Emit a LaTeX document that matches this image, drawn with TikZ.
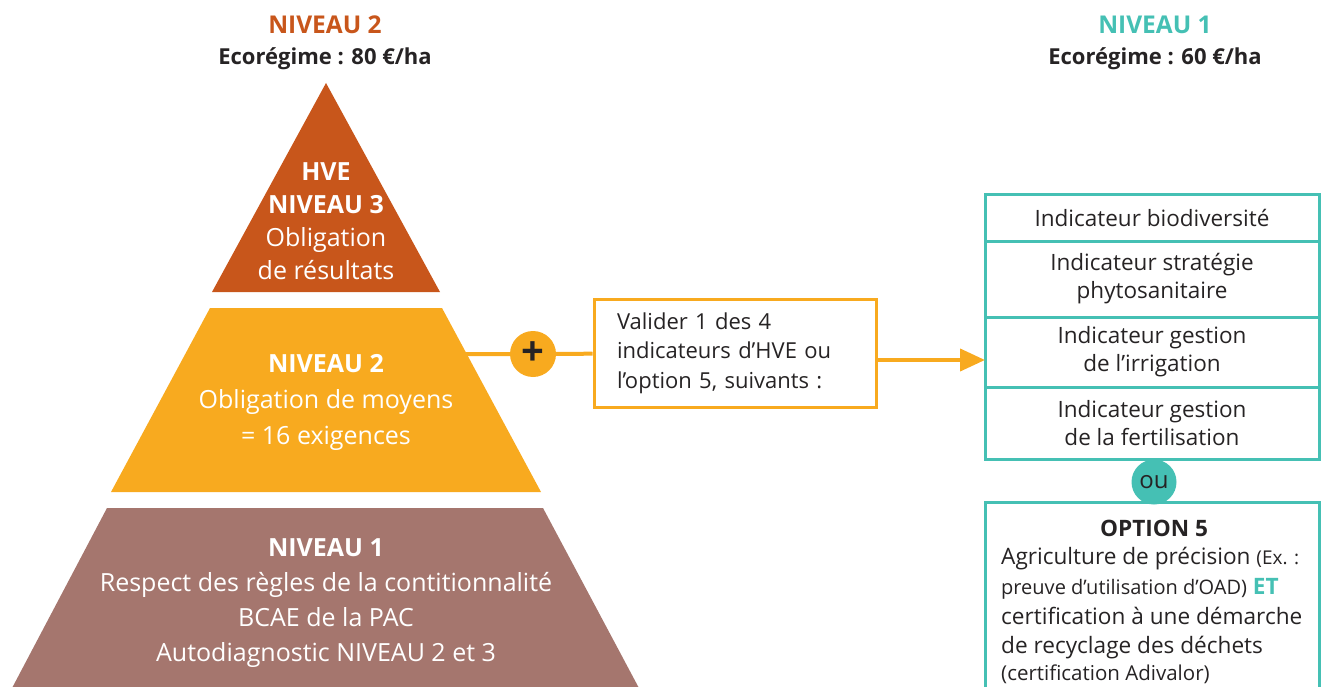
\documentclass[tikz,border=0pt]{standalone}
\usepackage{fontspec}
\setmainfont{Open Sans}
\usetikzlibrary{arrows.meta,calc}
\definecolor{rust}{HTML}{C8561B}
\definecolor{amber}{HTML}{F8AA1F}
\definecolor{mauve}{HTML}{A5766E}
\definecolor{teal2}{HTML}{45C0B4}
\definecolor{ink}{HTML}{262324}
\newcommand{\fsz}[2]{\fontsize{#1}{#2}\selectfont}
\begin{document}
\begin{tikzpicture}[x=1pt,y=-1pt,
  pyrtext/.style={text=white, align=center, inner sep=0pt, font=\fsz{25}{33}},
  headtext/.style={align=center, inner sep=0pt, text=ink, font=\fsz{22}{31}\bfseries},
  cell/.style={draw=teal2, line width=3pt, outer sep=0pt, minimum width=334pt, text=ink, align=center, inner sep=0pt, anchor=north west, font=\fsz{22.5}{28}},
  opttext/.style={anchor=base west, inner sep=0pt, text=ink, font=\fsz{22.6}{29}},
  link/.style={draw=amber, line width=4pt}
]
\useasboundingbox (0,0) rectangle (1322,687);
% headers
\node[headtext] (h2) at (325,43) {{\fsz{24.5}{31}\color{rust}NIVEAU 2}\\Ecorégime : 80 €/ha};
\node[headtext] (h1) at (1155,43) {{\fsz{24.5}{31}\color{teal2}NIVEAU 1}\\Ecorégime : 60 €/ha};
% pyramid
\fill[rust] (326,83) -- (440,292) -- (212,292) -- cycle;
\fill[amber] (210,308) -- (442,308) -- (541,492) -- (111,492) -- cycle;
\fill[mauve] (107,508) -- (543,508) -- (640,690) -- (11,690) -- cycle;
\node[pyrtext] (p3) at (326,221) {\bfseries HVE\\\bfseries NIVEAU 3\\Obligation\\de résultats};
\node[pyrtext, font=\fsz{25}{36}] (p2) at (326,402) {\bfseries NIVEAU 2\\Obligation de moyens\\= 16 exigences};
\node[pyrtext, font=\fsz{25}{35}] (p1) at (326,603) {\bfseries NIVEAU 1\\Respect des règles de la contitionnalité\\BCAE de la PAC\\Autodiagnostic NIVEAU 2 et 3};
% connector
\coordinate (pedge) at (466,354);
\node[circle, fill=amber, minimum size=46pt, inner sep=0pt, text=ink, font=\fsz{40}{40}\bfseries] (plus) at (533,354) {+};
\node[draw=amber, line width=3pt, fill=white, align=left, text width=236pt, inner xsep=23pt, minimum height=108pt, text=ink, font=\fsz{22}{29.5}] (valider) at (735,353) {Valider 1 des 4\\indicateurs d’HVE ou\\l’option 5, suivants :};
% teal stack
\node[cell, minimum height=46pt] (r1) at (985,195) {Indicateur biodiversité};
\node[cell, minimum height=76pt] (r2) at (r1.south west) {Indicateur stratégie\\phytosanitaire};
\node[cell, minimum height=70pt] (r3) at (r2.south west) {Indicateur gestion\\de l’irrigation};
\node[cell, minimum height=72pt] (r4) at (r3.south west) {Indicateur gestion\\de la fertilisation};
\draw[link] (pedge) -- (plus) -- (valider);
\coordinate (vout) at ($(valider.east)+(0,7)$);
\draw[link, -{Triangle[length=25pt,width=22pt]}] (vout) -- (vout -| r3.west);
% option 5
\node[draw=teal2, line width=3pt, outer sep=0pt, minimum width=334pt, minimum height=200pt, anchor=north west, inner sep=0pt] (opt) at (985,502) {};
\node[circle, fill=teal2, minimum size=45pt, inner sep=0pt, text=ink, font=\fsz{24}{24}] (ou) at (1154,482) {ou};
\node[anchor=base, inner sep=0pt, text=ink, font=\fsz{22.6}{29}\bfseries] (o0) at (1154,536) {OPTION 5};
\node[opttext] (o1) at (1001,564) {Agriculture de précision {\fsz{19}{29}(Ex. :}};
\node[opttext] (o2) at (1001,594) {{\fsz{20}{29}preuve d’utilisation d’OAD)} {\bfseries\color{teal2}ET}};
\node[opttext] (o3) at (1001,624) {certification à une démarche};
\node[opttext] (o4) at (1001,653) {de recyclage des déchets};
\node[opttext, font=\fsz{20.5}{29}] (o5) at (1001,680) {(certification Adivalor)};
\end{tikzpicture}
\end{document}
